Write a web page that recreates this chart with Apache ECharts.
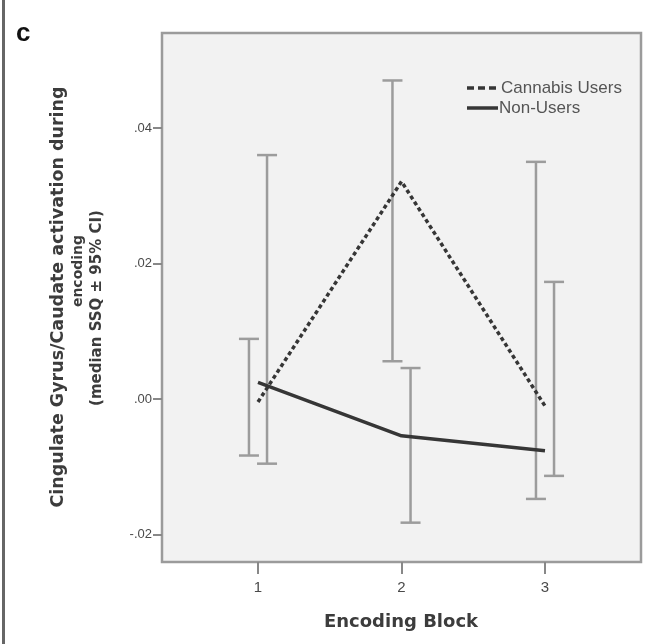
<!DOCTYPE html>
<html>
<head>
<meta charset="utf-8">
<script src="https://cdn.jsdelivr.net/npm/echarts@6/dist/echarts.min.js"></script>
<style>html,body{margin:0;padding:0;background:#fff;}#c{width:653px;height:644px;}</style>
</head>
<body>
<div id="c"></div>
<script>
// ---- data ----
const blocks = [1, 2, 3];
const xTicks = [1, 2, 3];
const yTicks = [-0.02, 0, 0.02, 0.04];
const seriesNames = ['Cannabis Users', 'Non-Users'];
const cannabisMedian = [-0.0004, 0.0321, -0.0010];
const nonUsersMedian = [0.0025, -0.0054, -0.0076];
const cannabisLow = [-0.0083, 0.0056, -0.0147];
const cannabisHigh = [0.0089, 0.0470, 0.0350];
const nonUsersLow = [-0.0095, -0.0182, -0.0113];
const nonUsersHigh = [0.0360, 0.0046, 0.0173];

// ---- chart ----
const chart = echarts.init(document.getElementById('c'), null, {renderer: 'canvas'});
const BAR_OFFSET = 0.063;
const lineColor = '#363636';
const barColor = '#9c9c9c';
const DASH = [4, 3];

function errData(low, high, off) {
  return blocks.map((b, i) => [b + off, low[i], high[i]]);
}
function errRender(params, api) {
  const x = api.value(0);
  const top = api.coord([x, api.value(2)]);
  const bot = api.coord([x, api.value(1)]);
  const hw = 10;
  const st = {stroke: barColor, lineWidth: 2.5};
  return {
    type: 'group',
    children: [
      {type: 'line', shape: {x1: top[0], y1: top[1], x2: bot[0], y2: bot[1]}, style: st},
      {type: 'line', shape: {x1: top[0] - hw, y1: top[1], x2: top[0] + hw, y2: top[1]}, style: st},
      {type: 'line', shape: {x1: bot[0] - hw, y1: bot[1], x2: bot[0] + hw, y2: bot[1]}, style: st}
    ]
  };
}
function fmtY(v) {
  if (Math.abs(v) < 1e-9) return '.00';
  const s = Math.abs(v).toFixed(2).replace(/^0/, '');
  return (v < 0 ? '-' : '') + s;
}

const option = {
  backgroundColor: '#ffffff',
  animation: false,
  grid: {left: 162, top: 33, right: 12, bottom: 82, show: true,
         backgroundColor: '#f2f2f2', borderColor: '#9b9b9b', borderWidth: 2.5},
  xAxis: {
    type: 'value', min: 0.331, max: 3.669,
    axisLine: {show: false, onZero: false},
    splitLine: {show: false},
    axisTick: {show: true, length: 12, customValues: xTicks, lineStyle: {color: '#888', width: 2}},
    axisLabel: {customValues: xTicks, margin: 18, fontFamily: 'Liberation Sans', fontSize: 15, color: '#4a4a4a',
                formatter: v => String(v)}
  },
  yAxis: {
    type: 'value', min: -0.024, max: 0.054,
    axisLine: {show: false, onZero: false},
    splitLine: {show: false},
    axisTick: {show: true, length: 9, customValues: yTicks, lineStyle: {color: '#888', width: 2}},
    axisLabel: {customValues: yTicks, margin: 10, fontFamily: 'Liberation Sans', fontSize: 13, color: '#4a4a4a',
                formatter: fmtY}
  },
  graphic: [
    {type: 'rect', left: 2, top: 0, shape: {width: 3, height: 644}, style: {fill: '#666'}},
    {type: 'text', x: 16, y: 34, style: {text: 'c', font: 'bold 26px "Liberation Sans"', fill: '#111',
      textAlign: 'left', textVerticalAlign: 'middle'}},
    {type: 'text', x: 58, y: 297, rotation: Math.PI / 2,
      style: {text: 'Cingulate Gyrus/Caudate activation during', font: 'bold 17.5px "DejaVu Sans"', fill: '#3c3c3c',
      textAlign: 'center', textVerticalAlign: 'middle'}},
    {type: 'text', x: 78, y: 271, rotation: Math.PI / 2,
      style: {text: 'encoding', font: 'bold 14px "DejaVu Sans"', fill: '#3c3c3c',
      textAlign: 'center', textVerticalAlign: 'middle'}},
    {type: 'text', x: 97, y: 308, rotation: Math.PI / 2,
      style: {text: '(median SSQ \u00b1 95% CI)', font: 'bold 15px "DejaVu Sans"', fill: '#3c3c3c',
      textAlign: 'center', textVerticalAlign: 'middle'}},
    {type: 'text', x: 401, y: 622,
      style: {text: 'Encoding Block', font: 'bold 18px "DejaVu Sans"', fill: '#3c3c3c',
      textAlign: 'center', textVerticalAlign: 'middle'}},
    // legend
    {type: 'line', shape: {x1: 467, y1: 88, x2: 498, y2: 88}, style: {stroke: lineColor, lineWidth: 3.5, lineDash: [7, 4]}, z: 10},
    {type: 'text', x: 501, y: 88, z: 10, style: {text: seriesNames[0], font: '17px "Liberation Sans"', fill: '#555',
      textAlign: 'left', textVerticalAlign: 'middle'}},
    {type: 'line', shape: {x1: 467, y1: 108, x2: 498, y2: 108}, style: {stroke: lineColor, lineWidth: 3.5}, z: 10},
    {type: 'text', x: 499, y: 108, z: 10, style: {text: seriesNames[1], font: '17px "Liberation Sans"', fill: '#555',
      textAlign: 'left', textVerticalAlign: 'middle'}}
  ],
  series: [
    {type: 'custom', name: 'ci-cannabis', renderItem: errRender, data: errData(cannabisLow, cannabisHigh, -BAR_OFFSET), z: 2, silent: true},
    {type: 'custom', name: 'ci-nonusers', renderItem: errRender, data: errData(nonUsersLow, nonUsersHigh, BAR_OFFSET), z: 2, silent: true},
    {type: 'line', name: seriesNames[0], data: blocks.map((b, i) => [b, cannabisMedian[i]]),
      symbol: 'none', z: 3, lineStyle: {color: lineColor, width: 3.5, type: DASH}, itemStyle: {color: lineColor}},
    {type: 'line', name: seriesNames[1], data: blocks.map((b, i) => [b, nonUsersMedian[i]]),
      symbol: 'none', z: 3, lineStyle: {color: lineColor, width: 3.5, type: 'solid'}, itemStyle: {color: lineColor}}
  ]
};
chart.setOption(option);
</script>
</body>
</html>
